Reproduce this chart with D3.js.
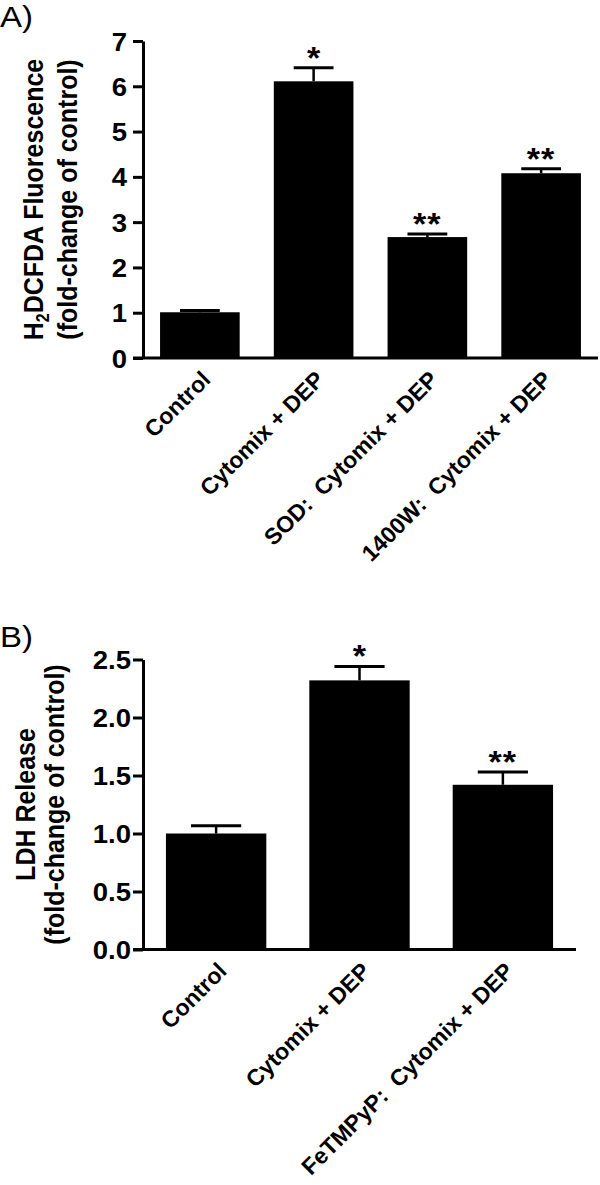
<!DOCTYPE html>
<html>
<head>
<meta charset="utf-8">
<script src="https://cdn.jsdelivr.net/npm/d3@7"></script>
<style>
  html, body { margin: 0; padding: 0; background: #fff; }
  svg { display: block; }
  text { font-family: "Liberation Sans", Arial, sans-serif; fill: #000; }
</style>
</head>
<body>
<svg id="chart" width="600" height="1185"></svg>
<script>
// ---------- Data ----------
const categoriesA = ["Control", "Cytomix + DEP", "SOD:  Cytomix + DEP", "1400W:  Cytomix + DEP"];
const valuesA = [1.01, 6.11, 2.67, 4.08];
const errorsA = [0.04, 0.30, 0.07, 0.10];
const significanceA = ["", "*", "**", "**"];
const ticksA = [0, 1, 2, 3, 4, 5, 6, 7];

const categoriesB = ["Control", "Cytomix + DEP", "FeTMPyP:  Cytomix + DEP"];
const valuesB = [1.00, 2.32, 1.42];
const errorsB = [0.067, 0.12, 0.11];
const significanceB = ["", "*", "**"];
const ticksB = [0, 0.5, 1.0, 1.5, 2.0, 2.5];

const svg = d3.select("#chart");
const SX = 1.1; // horizontal glyph stretch of the original

function panel(cfg) {
  const g = svg.append("g");
  const y = d3.scaleLinear().domain(cfg.domain).range(cfg.yRange);
  const x = d3.scaleBand().domain(cfg.cats).range(cfg.xRange)
    .paddingInner(0.3).paddingOuter(cfg.outer);
  const axisX = cfg.xRange[0];
  const baseY = y(0);

  // bars
  g.selectAll("rect.bar").data(cfg.vals).enter().append("rect")
    .attr("x", (d, i) => x(cfg.cats[i]))
    .attr("y", d => y(d))
    .attr("width", x.bandwidth())
    .attr("height", d => baseY - y(d))
    .attr("fill", "#000");

  // error bars (upper)
  cfg.vals.forEach((v, i) => {
    const cx = x(cfg.cats[i]) + x.bandwidth() / 2;
    const top = y(v + cfg.errs[i]);
    g.append("line").attr("x1", cx).attr("x2", cx).attr("y1", y(v)).attr("y2", top)
      .attr("stroke", "#000").attr("stroke-width", 2.5);
    g.append("line").attr("x1", cx - x.bandwidth() / 4).attr("x2", cx + x.bandwidth() / 4)
      .attr("y1", top).attr("y2", top)
      .attr("stroke", "#000").attr("stroke-width", 3);
    if (cfg.sig[i]) {
      g.append("text")
        .attr("transform", `translate(${cx},${top + 1}) scale(${SX},1)`)
        .attr("text-anchor", "middle")
        .attr("font-size", 31).attr("font-weight", "bold")
        .attr("letter-spacing", cfg.sig[i].length > 1 ? 1 : 0)
        .text(cfg.sig[i]);
    }
  });

  // y axis
  const yAxis = d3.axisLeft(y).tickValues(cfg.ticks).tickSize(10).tickSizeOuter(0)
    .tickFormat(cfg.fmt).tickPadding(0);
  const ya = g.append("g").attr("transform", `translate(${axisX},0)`).call(yAxis);
  ya.select(".domain").attr("stroke", "#000").attr("stroke-width", 3);
  ya.selectAll(".tick line").attr("stroke", "#000").attr("stroke-width", 3);
  ya.selectAll(".tick text").remove();
  ya.selectAll(".tick").append("text")
    .attr("transform", `translate(${-cfg.labelGap},0) scale(${SX},1)`)
    .attr("text-anchor", "end").attr("dy", "0.36em")
    .attr("font-size", 25).attr("font-weight", "bold")
    .attr("fill", "#000")
    .text(d => cfg.fmt(d));

  // x axis line
  g.append("line").attr("x1", axisX - 10).attr("x2", cfg.xRange[1])
    .attr("y1", baseY).attr("y2", baseY)
    .attr("stroke", "#000").attr("stroke-width", 3);

  // category labels
  const xAxis = d3.axisBottom(x).tickSize(0).tickFormat("");
  const xa = g.append("g").attr("transform", `translate(0,${baseY})`).call(xAxis);
  xa.select(".domain").remove();
  xa.selectAll(".tick").append("text")
    .attr("transform", `translate(12,23) rotate(-45)`)
    .attr("text-anchor", "end")
    .attr("font-size", 23).attr("font-weight", "bold")
    .attr("fill", "#000")
    .style("white-space", "pre")
    .text(d => d);

  // y title
  const cy = (cfg.yRange[0] + cfg.yRange[1]) / 2;
  const t1 = g.append("text")
    .attr("transform", `translate(${cfg.title1X},${cy}) scale(${SX},1) rotate(-90)`)
    .attr("text-anchor", "middle").attr("font-size", 25).attr("font-weight", "bold");
  cfg.title1(t1);
  g.append("text")
    .attr("transform", `translate(${cfg.title2X},${cy}) scale(${SX},1) rotate(-90)`)
    .attr("text-anchor", "middle").attr("font-size", 25).attr("font-weight", "bold")
    .text("(fold-change of control)");

  // panel letter
  g.append("text")
    .attr("transform", `translate(0,${cfg.letterY}) scale(${SX},1)`)
    .attr("font-size", 30)
    .text(cfg.letter);
}

panel({
  cats: categoriesA, vals: valuesA, errs: errorsA, sig: significanceA, ticks: ticksA,
  domain: [0, 7], yRange: [358, 41], xRange: [143, 598], outer: 0.15,
  fmt: d3.format("d"), labelGap: 16,
  title1X: 43, title2X: 77,
  title1: t => {
    t.append("tspan").text("H");
    t.append("tspan").attr("font-size", 16).attr("dy", 5).text("2");
    t.append("tspan").attr("dy", -5).text("DCFDA Fluorescence");
  },
  letter: "A)", letterY: 27
});

panel({
  cats: categoriesB, vals: valuesB, errs: errorsB, sig: significanceB, ticks: ticksB,
  domain: [0, 2.5], yRange: [949.5, 659.5], xRange: [143, 576], outer: 0.16,
  fmt: d3.format(".1f"), labelGap: 12,
  title1X: 35, title2X: 64,
  title1: t => t.text("LDH Release"),
  letter: "B)", letterY: 647
});
</script>
</body>
</html>
